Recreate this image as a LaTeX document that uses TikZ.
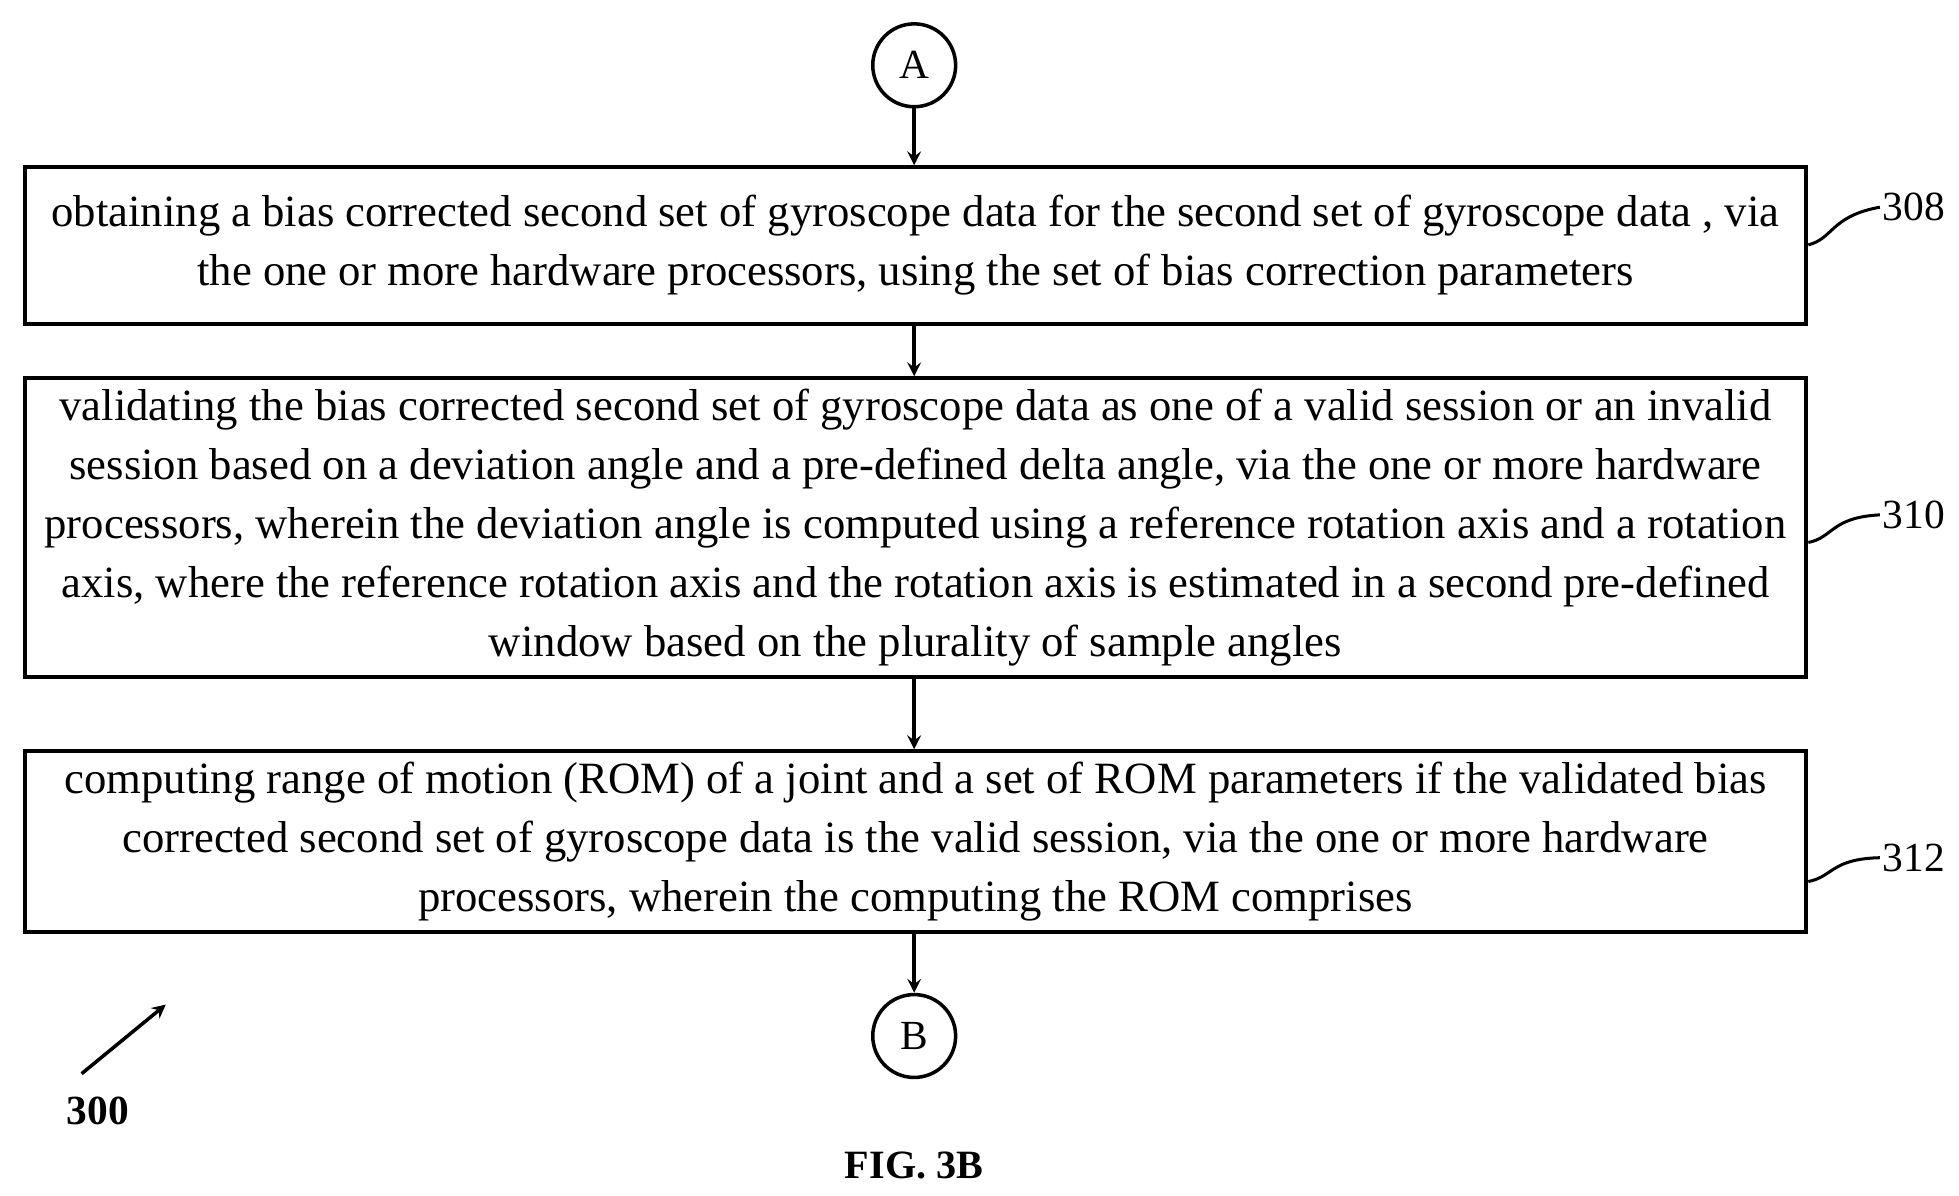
\documentclass[tikz,border=0pt]{standalone}
\usepackage{fontspec}
\setmainfont{Liberation Serif}
\begin{document}
\begin{tikzpicture}[x=0.5pt,y=-0.5pt,
  stepbox/.style={draw,line width=1.4pt,inner sep=0pt,align=center,font=\fontsize{17.8pt}{23.5pt}\selectfont},
  conn/.style={draw,circle,line width=1.4pt,minimum size=33pt,inner sep=0pt,font=\fontsize{16.5pt}{18pt}\selectfont},
  arr/.style={->,line width=1.4pt,>=stealth},
  lbl/.style={font=\fontsize{16.5pt}{18pt}\selectfont,anchor=west,inner sep=1pt}]
\useasboundingbox (0,0) rectangle (1560,952);
\node[conn] (A) at (728,52) {A};
\node[stepbox,minimum width=709pt,minimum height=62.5pt] (b1) at (729,195.5) {\raisebox{-2.5pt}{\parbox{700pt}{\centering obtaining a bias corrected second set of gyroscope data for the second set of gyroscope data , via\\the one or more hardware processors, using the set of bias correction parameters}}};
\node[stepbox,minimum width=709pt,minimum height=119pt] (b2) at (729,420) {validating the bias corrected second set of gyroscope data as one of a valid session or an invalid\\session based on a deviation angle and a pre-defined delta angle, via the one or more hardware\\processors, wherein the deviation angle is computed using a reference rotation axis and a rotation\\axis, where the reference rotation axis and the rotation axis is estimated in a second pre-defined\\window based on the plurality of sample angles};
\node[stepbox,minimum width=709pt,minimum height=72pt] (b3) at (729,670) {computing range of motion (ROM) of a joint and a set of ROM parameters if the validated bias\\corrected second set of gyroscope data is the valid session, via the one or more hardware\\processors, wherein the computing the ROM comprises};
\node[conn] (B) at (728,825) {B};
\draw[arr] (A) -- (A |- b1.north);
\draw[arr] (b1.south -| A) -- (b2.north -| A);
\draw[arr] (b2.south -| A) -- (b3.north -| A);
\draw[arr] (b3.south -| A) -- (B);
\node[lbl] (l308) at (1497,165) {308};
\node[lbl] (l310) at (1497,410) {310};
\node[lbl] (l312) at (1497,683) {312};
\draw[line width=1.2pt] (1440,195) .. controls (1460,190) and (1458,172) .. (l308.west);
\draw[line width=1.2pt] (1440,432) .. controls (1460,428) and (1458,412) .. (l310.west);
\draw[line width=1.2pt] (1440,702) .. controls (1460,698) and (1458,684) .. (l312.west);
\coordinate (s) at (65,855); \coordinate (e) at (132,800);
\draw[arr] (s) -- (e);
\node[font=\bfseries\fontsize{16.5pt}{18pt}\selectfont] (n300) at (78,885) {300};
\node[font=\bfseries\fontsize{16pt}{18pt}\selectfont] (fig) at (728,928) {FIG. 3B};
\end{tikzpicture}
\end{document}
